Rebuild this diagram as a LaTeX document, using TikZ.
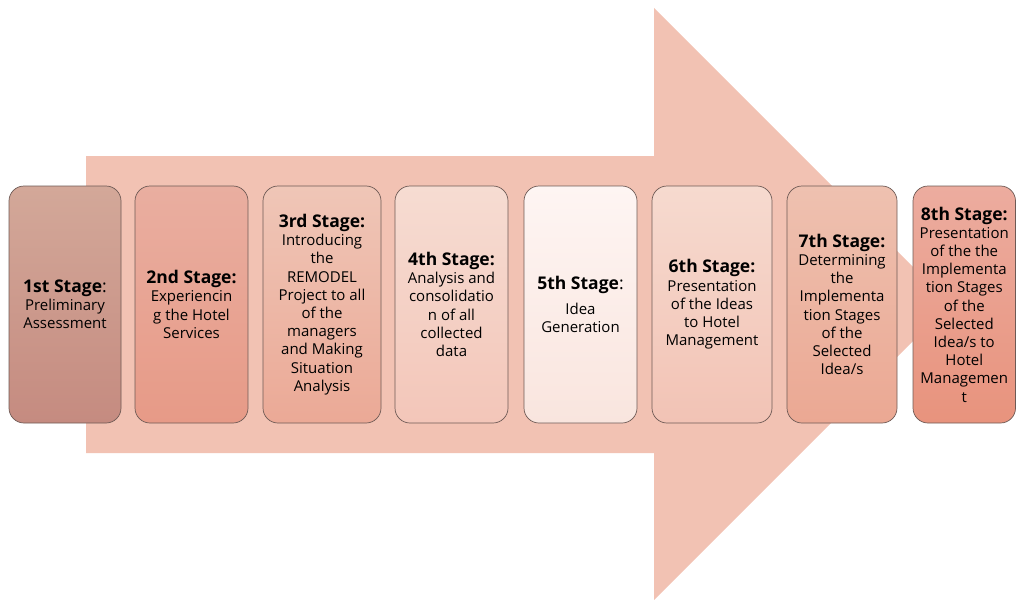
\documentclass[tikz,border=0pt]{standalone}
\usepackage{fontspec}
\setmainfont{Open Sans}
\begin{document}
\begin{tikzpicture}[x=1pt,y=-1pt,
  stagebox/.style={draw=boxline, line width=0.7pt, rounded corners=15pt,
    inner sep=0pt, align=center, text=black,
    font=\fontsize{15}{18.2}\selectfont}]
\definecolor{arrowfill}{HTML}{F2C2B3}
\definecolor{boxline}{HTML}{6E5A55}
\useasboundingbox (0,0) rectangle (1016,599);
\fill[arrowfill] (86,156) -- (654,156) -- (654,8) -- (950,304) -- (654,600) -- (654,453) -- (86,453) -- cycle;
\newcommand{\hdr}[1]{{\fontsize{17.5}{18.2}\selectfont\bfseries #1}}
\newcommand{\hcolon}{{\fontsize{17.5}{18.2}\selectfont:}}
\newcommand{\stagebx}[8]{%
  \node[stagebox, top color=#4, bottom color=#5, minimum width=#3-#2, minimum height=237]
    (#1) at ({(#2+#3)/2},304.5) {#6\\[#8]#7};}
\definecolor{a1}{HTML}{D3A899}\definecolor{b1}{HTML}{C58B80}
\definecolor{a2}{HTML}{E9AEA0}\definecolor{b2}{HTML}{E79A87}
\definecolor{a3}{HTML}{EFC6B7}\definecolor{b3}{HTML}{EBA996}
\definecolor{a4}{HTML}{F6DCD2}\definecolor{b4}{HTML}{F3C6B9}
\definecolor{a5}{HTML}{FEF5F3}\definecolor{b5}{HTML}{F9E5DE}
\definecolor{a6}{HTML}{F6DACF}\definecolor{b6}{HTML}{F2C3B5}
\definecolor{a7}{HTML}{EEC1B0}\definecolor{b7}{HTML}{EBA893}
\definecolor{a8}{HTML}{ECAC9F}\definecolor{b8}{HTML}{E8937D}
\stagebx{s1}{9}{121}{a1}{b1}{\hdr{1st Stage}\hcolon}{Preliminary\\Assessment}{0pt}
\stagebx{s2}{135}{248}{a2}{b2}{\hdr{2nd Stage:}}{Experiencin\\g the Hotel\\Services}{0pt}
\stagebx{s3}{263}{381}{a3}{b3}{\hdr{3rd Stage:}}{Introducing\\the\\REMODEL\\Project to all\\of the\\managers\\and Making\\Situation\\Analysis}{0pt}
\stagebx{s4}{395}{508}{a4}{b4}{\hdr{4th Stage:}}{Analysis and\\consolidatio\\n of all\\collected\\data}{0pt}
\stagebx{s5}{524}{637}{a5}{b5}{\hdr{5th Stage}\hcolon}{Idea\\Generation}{7pt}
\stagebx{s6}{652}{772}{a6}{b6}{\hdr{6th Stage:}}{Presentation\\of the Ideas\\to Hotel\\Management}{0pt}
\stagebx{s7}{787}{897}{a7}{b7}{\hdr{7th Stage:}}{Determining\\the\\Implementa\\tion Stages\\of the\\Selected\\Idea/s}{0pt}
\stagebx{s8}{913}{1015.5}{a8}{b8}{\hdr{8th Stage:}}{Presentation\\of the the\\Implementa\\tion Stages\\of the\\Selected\\Idea/s to\\Hotel\\Managemen\\t}{0pt}
\end{tikzpicture}
\end{document}
